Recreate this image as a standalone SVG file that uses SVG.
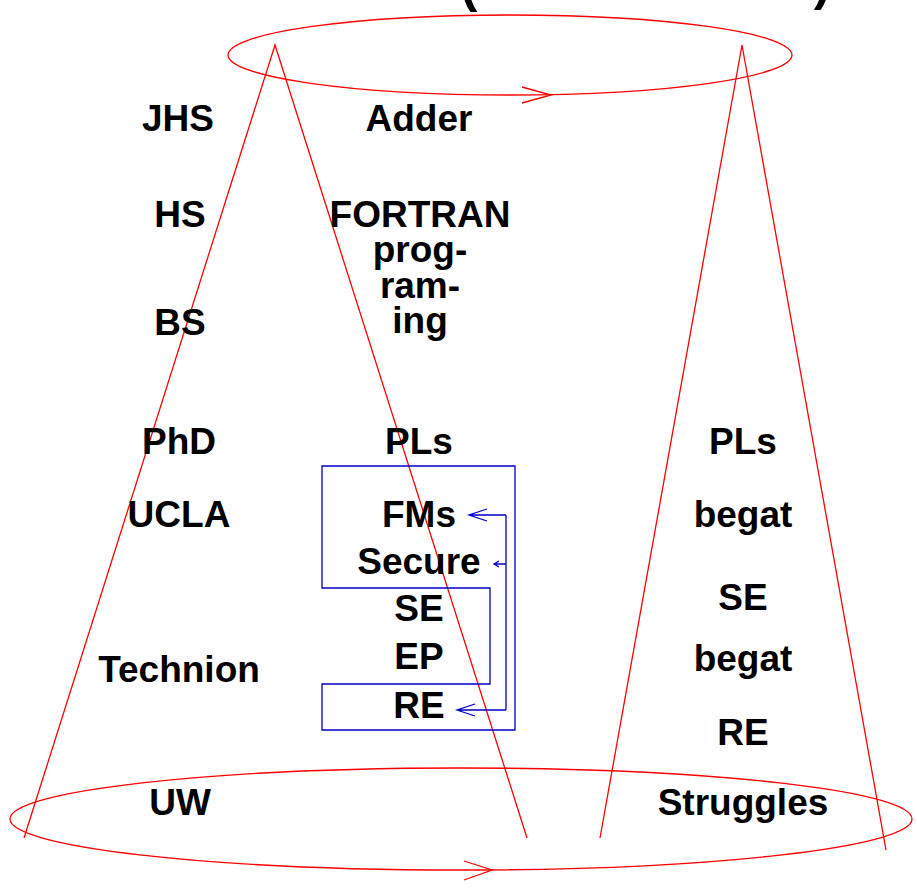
<svg xmlns="http://www.w3.org/2000/svg" width="917" height="893" viewBox="0 0 917 893">
<style>
  .lbl { font-family: "Liberation Sans", Arial, sans-serif; font-weight: bold; font-size: 37px; fill: #000; text-anchor: middle; }
  .red { fill: none; stroke: #ff0000; stroke-width: 1.3; }
  .blue { fill: none; stroke: #0000cc; stroke-width: 1.3; }
</style>
<rect width="917" height="893" fill="#ffffff"/>
<g id="title">
  <text class="lbl" x="469" y="2" style="font-size:50px">(</text>
  <text class="lbl" x="822" y="0" style="font-size:50px">)</text>
</g>
<g id="connectors">
  <ellipse class="red" cx="510" cy="55" rx="282" ry="40"/>
  <path class="red" d="M522,87 L551,95 L522,103"/>
  <ellipse class="red" cx="461" cy="819" rx="451" ry="51"/>
  <path class="red" d="M464,861 L492,870 L464,880"/>
  <path class="red" d="M24,838 L275,45 L527,838"/>
  <path class="red" d="M600,838 L742,45 L886,850"/>
  <path class="blue" d="M322,466 L515,466 L515,730 L322,730 L322,684 L490,684 L490,588 L322,588 Z"/>
  <path class="blue" d="M506,515 L506,710"/>
  <path class="blue" d="M506,515 L469,515 M487,509 L469,515 L487,521"/>
  <path class="blue" d="M506,564 L494,564 M499,561 L494,564 L499,567"/>
  <path class="blue" d="M506,710 L457,710 M475,704 L457,710 L475,716"/>
</g>
<g id="n-jhs"><text class="lbl" x="178" y="131">JHS</text></g>
<g id="n-adder"><text class="lbl" x="419" y="131">Adder</text></g>
<g id="n-hs"><text class="lbl" x="180" y="227">HS</text></g>
<g id="n-fortran">
  <text class="lbl" x="420" y="227">FORTRAN</text>
  <text class="lbl" x="420" y="262">prog-</text>
  <text class="lbl" x="420" y="298">ram-</text>
  <text class="lbl" x="420" y="333">ing</text>
</g>
<g id="n-bs"><text class="lbl" x="180" y="335">BS</text></g>
<g id="n-phd"><text class="lbl" x="179" y="454">PhD</text></g>
<g id="n-pls"><text class="lbl" x="419" y="454">PLs</text></g>
<g id="n-pls2"><text class="lbl" x="743" y="454">PLs</text></g>
<g id="n-ucla"><text class="lbl" x="179" y="527">UCLA</text></g>
<g id="n-fms"><text class="lbl" x="419" y="527">FMs</text></g>
<g id="n-begat1"><text class="lbl" x="743" y="527">begat</text></g>
<g id="n-secure"><text class="lbl" x="419" y="574">Secure</text></g>
<g id="n-se"><text class="lbl" x="419" y="621">SE</text></g>
<g id="n-se2"><text class="lbl" x="743" y="610">SE</text></g>
<g id="n-technion"><text class="lbl" x="179" y="682">Technion</text></g>
<g id="n-ep"><text class="lbl" x="419" y="669">EP</text></g>
<g id="n-begat2"><text class="lbl" x="743" y="671">begat</text></g>
<g id="n-re"><text class="lbl" x="419" y="718">RE</text></g>
<g id="n-re2"><text class="lbl" x="743" y="745">RE</text></g>
<g id="n-uw"><text class="lbl" x="180" y="815">UW</text></g>
<g id="n-struggles"><text class="lbl" x="743" y="815">Struggles</text></g>
</svg>
